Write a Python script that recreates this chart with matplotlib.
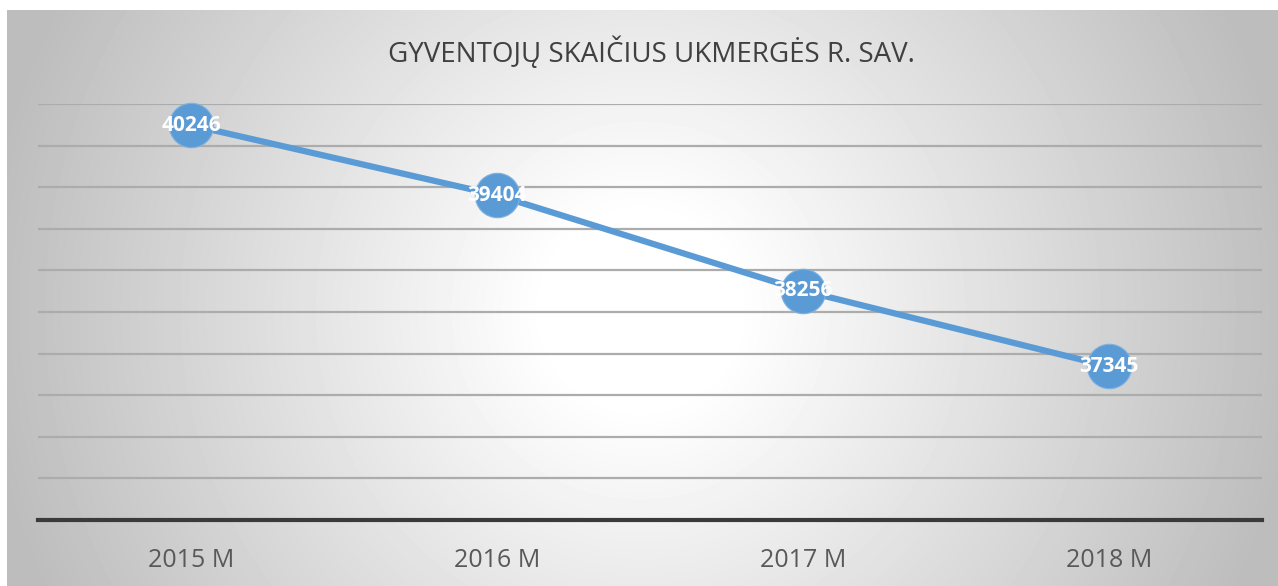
import numpy as np
import matplotlib.pyplot as plt

# ------------------------------------------------------------
# Data
# ------------------------------------------------------------

years = ["2015 M", "2016 M", "2017 M", "2018 M"]
population = [40246, 39404, 38256, 37345]

title = "GYVENTOJŲ SKAIČIUS UKMERGĖS R. SAV."

plt.rcParams.update({
    "font.family": ["Open Sans", "DejaVu Sans"],
})

W, H = 1278, 586
fig = plt.figure(figsize=(W / 100, H / 100), dpi=100)
fig.patch.set_facecolor("white")

# ------------------------------------------------------------
# Radial grey background (white in the middle)
# ------------------------------------------------------------

bx0, by1 = 7, 10
bg = fig.add_axes([bx0 / W, 0, 1 - bx0 / W, 1 - by1 / H], zorder=0)
gx = np.arange(bx0, W)
gy = np.arange(by1, H)
XX, YY = np.meshgrid(gx, gy)
r = np.sqrt((XX - 640) ** 2 + (YY - 310) ** 2) / 640
t = np.clip((r - 0.15) / 0.88, 0, 1)
shade = 1 - (1 - 0.74) * t
bg.imshow(shade, cmap="gray", vmin=0, vmax=1, aspect="auto",
          interpolation="bilinear")
bg.axis("off")

# ------------------------------------------------------------
# Main line chart
# ------------------------------------------------------------

ax = fig.add_axes([38 / W, 1 - 520 / H, (1262 - 38) / W, (520 - 104) / H],
                  zorder=1)
ax.patch.set_alpha(0)

x = np.arange(len(years))

ax.set_xlim(-0.5, len(years) - 0.5)
ax.set_ylim(35500, 40500)
ax.set_yticks(np.arange(35500, 40501, 500))
ax.yaxis.grid(True, color="#acacac", linewidth=1.6)
ax.set_axisbelow(True)

for side in ["top", "right", "left"]:
    ax.spines[side].set_visible(False)
ax.spines["bottom"].set_color("#3a3a3a")
ax.spines["bottom"].set_linewidth(3)
ax.spines["bottom"].set_zorder(2)

ax.tick_params(axis="y", left=False, labelleft=False)
ax.tick_params(axis="x", bottom=False, pad=17, labelsize=18,
               labelcolor="#595959")
ax.set_xticks(x)
ax.set_xticklabels(years)

ax.plot(
    x,
    population,
    color="#5B9BD5",
    linewidth=4.5,
    marker="o",
    markersize=32,
    markerfacecolor="#5B9BD5",
    markeredgecolor="#7fb1e0",
    markeredgewidth=0.8,
    zorder=3,
    clip_on=False
)

for xi, val in zip(x, population):
    ax.text(
        xi,
        val,
        f"{val}",
        ha="center",
        va="center",
        color="white",
        fontsize=15,
        fontweight="bold",
        zorder=4
    )

fig.text(
    651 / W,
    1 - 53 / H,
    title,
    ha="center",
    va="center",
    fontsize=20,
    color="#404040"
)

plt.savefig("out.png", dpi=100)
